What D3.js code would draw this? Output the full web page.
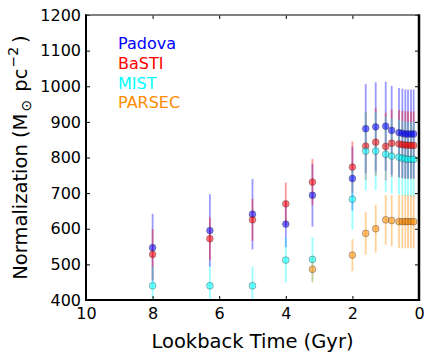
<!DOCTYPE html>
<html><head><meta charset="utf-8">
<script src="https://cdn.jsdelivr.net/npm/d3@7"></script>
<style>body{margin:0;background:#fff}svg{display:block}text{font-family:"DejaVu Sans",sans-serif}</style>
</head><body>
<script>
const times = [8.0, 6.28, 5.0, 4.0, 3.2, 2.0, 1.6, 1.3, 1.0, 0.82, 0.6, 0.5, 0.41, 0.33, 0.24, 0.16];
const padova   = [547, 595, 641, 613, 694, 741, 881, 886, 888, 876, 870, 868, 866, 866, 866, 866];
const padovaErr= [95, 102, 99, 65, 88, 90, 125, 125, 125, 125, 125, 125, 125, 125, 125, 125];
const basti    = [528, 572, 625, 670, 731, 773, 832, 843, 831, 840, 838, 836, 835, 835, 834, 834];
const bastiErr = [71, 60, 59, 60, 65, 72, 95, 95, 95, 95, 95, 95, 95, 95, 95, 95];
const mist     = [440, 440, 440, 512, 514, 683, 818, 818, 809, 804, 801, 798, 796, 795, 795, 795];
const mistErr  = [54, 54, 54, 63, 62, 86, 110, 110, 105, 105, 105, 105, 105, 105, 105, 105];
const parsec   = [null, null, null, null, 486, 526, 587, 600, 625, 623, 620, 620, 620, 620, 620, 620];
const parsecErr= [null, null, null, null, 37, 45, 60, 67, 70, 72, 75, 75, 75, 75, 75, 75];
const seriesNames = ["Padova", "BaSTI", "MIST", "PARSEC"];
const seriesColors = ["#0000ff", "#ff0000", "#00ffff", "#ff8c00"];
const xTicks = [10, 8, 6, 4, 2, 0];
const yTicks = [400, 500, 600, 700, 800, 900, 1000, 1100, 1200];

const W = 429, H = 360;
const L = 86, R = 419, T = 15, B = 300;
const svg = d3.select("body").append("svg").attr("width", W).attr("height", H);
const x = d3.scaleLinear().domain([10, 0]).range([L, R]);
const y = d3.scaleLinear().domain([400, 1200]).range([B, T]);

svg.append("clipPath").attr("id", "clip").append("rect")
  .attr("x", L).attr("y", T).attr("width", R - L).attr("height", B - T);

const series = [
  {vals: padova, err: padovaErr},
  {vals: basti, err: bastiErr},
  {vals: mist, err: mistErr},
  {vals: parsec, err: parsecErr}
];

const plot = svg.append("g").attr("clip-path", "url(#clip)");
series.forEach((s, i) => {
  const pts = times.map((t, j) => ({t, v: s.vals[j], e: s.err[j]})).filter(d => d.v != null);
  const g = plot.append("g");
  g.selectAll("line").data(pts).enter().append("line")
    .attr("x1", d => x(d.t)).attr("x2", d => x(d.t))
    .attr("y1", d => y(d.v - d.e)).attr("y2", d => y(d.v + d.e))
    .attr("stroke", seriesColors[i]).attr("stroke-opacity", 0.4).attr("stroke-width", 1.8);
});
series.forEach((s, i) => {
  const pts = times.map((t, j) => ({t, v: s.vals[j]})).filter(d => d.v != null);
  plot.append("g").selectAll("circle").data(pts).enter().append("circle")
    .attr("cx", d => x(d.t)).attr("cy", d => y(d.v)).attr("r", 3.4)
    .attr("fill", seriesColors[i]).attr("fill-opacity", 0.55)
    .attr("stroke", "#333").attr("stroke-opacity", 0.45).attr("stroke-width", 0.8);
});

// axes
const xAxisB = d3.axisBottom(x).tickValues(xTicks).tickSize(-4).tickPadding(8).tickFormat(d3.format("d"));
const xAxisT = d3.axisTop(x).tickValues(xTicks).tickSize(-4).tickFormat("");
const yAxisL = d3.axisLeft(y).tickValues(yTicks).tickSize(-4).tickPadding(5).tickFormat(d3.format("d"));
const yAxisR = d3.axisRight(y).tickValues(yTicks).tickSize(-4).tickFormat("");
function style(g) {
  g.select(".domain").remove();
  g.selectAll(".tick line").attr("stroke", "#000").attr("stroke-width", 1);
  g.selectAll(".tick text").attr("font-size", 16).attr("fill", "#000").attr("font-family", "DejaVu Sans");
}
svg.append("g").attr("transform", `translate(0,${B})`).call(xAxisB).call(style);
svg.append("g").attr("transform", `translate(0,${T})`).call(xAxisT).call(style);
svg.append("g").attr("transform", `translate(${L},0)`).call(yAxisL).call(style);
svg.append("g").attr("transform", `translate(${R},0)`).call(yAxisR).call(style);

// spines
svg.append("line").attr("x1", L).attr("x2", R).attr("y1", T).attr("y2", T).attr("stroke", "#555").attr("stroke-width", 1.5);
svg.append("line").attr("x1", L).attr("x2", L).attr("y1", T - 0.75).attr("y2", B + 1).attr("stroke", "#000").attr("stroke-width", 2);
svg.append("line").attr("x1", R).attr("x2", R).attr("y1", T - 0.75).attr("y2", B + 1).attr("stroke", "#000").attr("stroke-width", 2.5);
svg.append("line").attr("x1", L - 1).attr("x2", R + 1).attr("y1", B).attr("y2", B).attr("stroke", "#000").attr("stroke-width", 2);

// axis titles
svg.append("text").attr("x", (L + R) / 2).attr("y", 348).attr("text-anchor", "middle")
  .attr("font-size", 19.5).attr("fill", "#000").text("Lookback Time (Gyr)");
const yl = svg.append("text").attr("transform", `translate(27,${(T + B) / 2}) rotate(-90)`)
  .attr("text-anchor", "middle").attr("font-size", 19.5).attr("fill", "#000");
yl.append("tspan").text("Normalization (M");
yl.append("tspan").attr("font-size", 14).attr("dx", 2).attr("dy", 4).text("⊙");
yl.append("tspan").attr("dx", 2).attr("dy", -4).text(" pc");
yl.append("tspan").attr("font-size", 14).attr("dx", 1).attr("dy", -9).text("−2");
yl.append("tspan").attr("dx", 4).attr("dy", 9).text(")");

// legend
seriesNames.forEach((n, i) => {
  svg.append("text").attr("x", 118).attr("y", 49 + i * 19.8)
    .attr("font-size", 16).attr("fill", seriesColors[i]).text(n);
});
</script>
</body></html>
